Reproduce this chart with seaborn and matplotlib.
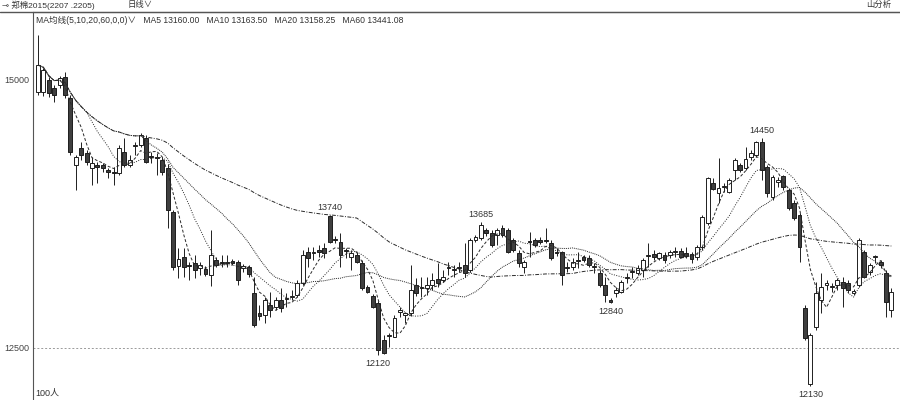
import numpy as np
import pandas as pd
import seaborn as sns
import matplotlib.pyplot as plt
from matplotlib.lines import Line2D

# 日线 OHLC
opens = [14890, 14890, 15000, 14925, 14955, 15030, 14830, 14205, 14365, 14320,
         14180, 14205, 14205, 14160, 14140, 14135, 14330, 14205, 14385, 14395,
         14460, 14290, 14280, 14255, 14180, 13770, 13265, 13350, 13275, 13290,
         13245, 13235, 13180, 13320, 13300, 13290, 13310, 13300, 13245, 13255,
         13010, 12825, 12805, 12900, 12880, 12945, 12955, 12975, 12995, 13105,
         13395, 13385, 13415, 13430, 13730, 13515, 13490, 13415, 13350, 13365,
         13290, 13070, 12985, 12920, 12575, 12610, 12600, 12835, 12805, 12825,
         13085, 13070, 13060, 13085, 13140, 13135, 13245, 13225, 13245, 13275,
         13225, 13505, 13525, 13600, 13570, 13555, 13620, 13600, 13505, 13385,
         13255, 13495, 13505, 13505, 13505, 13480, 13395, 13395, 13255, 13255,
         13320, 13350, 13340, 13255, 13200, 13085, 12945, 13010, 13020, 13150,
         13210, 13200, 13225, 13360, 13375, 13340, 13365, 13365, 13395, 13405,
         13385, 13375, 13350, 13440, 13665, 14040, 13945, 14000, 13955, 14160,
         14205, 14180, 14280, 14300, 14420, 14190, 13910, 14050, 14105, 13975,
         13850, 13740, 12870, 12165, 12695, 12945, 13085, 13070, 13085, 13115,
         13105, 13010, 13085, 13395, 13210, 13350, 13300, 13200, 12855]
highs = [15420, 15110, 15030, 14955, 15035, 15075, 14860, 14300, 14420, 14345,
         14280, 14235, 14225, 14180, 14190, 14395, 14460, 14300, 14420, 14505,
         14485, 14330, 14320, 14280, 14215, 13785, 13430, 13430, 13300, 13365,
         13300, 13265, 13600, 13350, 13365, 13365, 13330, 13320, 13285, 13275,
         13160, 12900, 12975, 13020, 12975, 13060, 13010, 13040, 13135, 13415,
         13440, 13440, 13460, 13480, 13740, 13545, 13570, 13430, 13415, 13395,
         13320, 13085, 13005, 12940, 12620, 12640, 12805, 12880, 12835, 13275,
         13150, 13160, 13160, 13200, 13290, 13225, 13300, 13275, 13300, 13480,
         13525, 13555, 13675, 13620, 13600, 13620, 13645, 13620, 13525, 13415,
         13320, 13580, 13525, 13535, 13620, 13505, 13430, 13405, 13300, 13340,
         13395, 13365, 13365, 13290, 13225, 13160, 12965, 13070, 13135, 13200,
         13255, 13275, 13340, 13480, 13415, 13395, 13395, 13415, 13440, 13430,
         13440, 13395, 13460, 13740, 14095, 14085, 14270, 14040, 14085, 14270,
         14225, 14375, 14345, 14430, 14460, 14205, 14115, 14095, 14115, 13990,
         13880, 13760, 12900, 12640, 13115, 13200, 13135, 13105, 13150, 13160,
         13135, 13050, 13525, 13415, 13290, 13365, 13320, 13225, 13060]
lows = [14860, 14850, 14840, 14795, 14925, 14830, 14300, 13975, 14255, 14205,
        14020, 14040, 14140, 14085, 14020, 14115, 14190, 14190, 14300, 14375,
        14225, 14225, 14115, 14115, 13620, 13225, 13150, 13160, 13135, 13150,
        13180, 13170, 13080, 13255, 13255, 13255, 13275, 13085, 13210, 13160,
        12695, 12760, 12730, 12790, 12855, 12835, 12880, 12945, 12975, 13085,
        13255, 13320, 13350, 13340, 13480, 13480, 13255, 13340, 13225, 13290,
        13040, 13010, 12870, 12435, 12440, 12510, 12600, 12790, 12730, 12795,
        12985, 12975, 12995, 13040, 13070, 13115, 13180, 13160, 13210, 13160,
        13210, 13490, 13505, 13545, 13440, 13460, 13535, 13385, 13395, 13255,
        13200, 13350, 13440, 13470, 13480, 13320, 13360, 13085, 13210, 13225,
        13245, 13300, 13255, 13200, 13070, 12930, 12920, 12975, 13010, 13105,
        13150, 13180, 13160, 13255, 13320, 13320, 13290, 13340, 13350, 13340,
        13340, 13290, 13320, 13415, 13645, 13975, 13850, 13955, 13945, 14065,
        14140, 14160, 14255, 14280, 14065, 13910, 13880, 14000, 13975, 13785,
        13695, 13300, 12575, 12145, 12665, 12825, 13040, 13020, 13040, 12880,
        13010, 12995, 13070, 13150, 13180, 13290, 13245, 12785, 12785]
closes = [15140, 15095, 14880, 14860, 15020, 14860, 14330, 14280, 14300, 14235,
          14225, 14190, 14180, 14140, 14135, 14365, 14205, 14255, 14395, 14485,
          14235, 14280, 14270, 14140, 13785, 13255, 13330, 13255, 13265, 13225,
          13275, 13190, 13365, 13275, 13290, 13300, 13290, 13135, 13265, 13190,
          12715, 12795, 12945, 12855, 12945, 12870, 12965, 12985, 13105, 13365,
          13340, 13395, 13395, 13385, 13490, 13505, 13365, 13405, 13385, 13300,
          13060, 13020, 12880, 12480, 12450, 12620, 12780, 12855, 12825, 13040,
          13010, 13060, 13085, 13135, 13105, 13160, 13255, 13235, 13255, 13200,
          13505, 13535, 13645, 13570, 13460, 13600, 13555, 13395, 13415, 13290,
          13300, 13490, 13460, 13490, 13495, 13340, 13385, 13180, 13245, 13300,
          13310, 13320, 13275, 13265, 13085, 12995, 12930, 13040, 13115, 13160,
          13220, 13245, 13320, 13365, 13350, 13385, 13320, 13395, 13405, 13350,
          13360, 13330, 13440, 13720, 14085, 13985, 13990, 14010, 14065, 14255,
          14160, 14265, 14320, 14420, 14160, 13945, 14095, 14065, 14000, 13805,
          13710, 13440, 12590, 12620, 13010, 13070, 13105, 13080, 13135, 13060,
          13040, 13030, 13505, 13160, 13275, 13360, 13275, 12930, 13020]

# 高低点标注
ann_idx = [54, 82, 134, 63, 106, 143]
ann_text = ['13740', '13685', '14450', '12120', '12840', '12130']
ann_side = ['high', 'high', 'high', 'low', 'low', 'low']

y_ticks = [15000, 12500]
ma_windows = [5, 10, 20, 60]

df = pd.DataFrame({'open': opens, 'high': highs, 'low': lows, 'close': closes})
df['idx'] = np.arange(len(df))
for n in ma_windows:
    df['ma%d' % n] = df['close'].rolling(n, min_periods=1).mean()

sns.set_style('white')
plt.rcParams['font.family'] = ['Liberation Sans', 'Noto Sans CJK SC', 'DejaVu Sans']

fig = plt.figure(figsize=(9, 4), dpi=100)
ax = fig.add_axes([33 / 900, 0, 867 / 900, 388 / 400])

up = df[df['close'] >= df['open']]
down = df[df['close'] < df['open']]
ax.vlines(df['idx'], df['low'], df['high'], color='#1e1e1e', lw=0.7, zorder=2)
ax.bar(up['idx'], up['close'] - up['open'], bottom=up['open'], width=0.72,
       facecolor='white', edgecolor='#1e1e1e', linewidth=0.7, zorder=3)
ax.bar(down['idx'], down['open'] - down['close'], bottom=down['close'], width=0.72,
       facecolor='#3f3f3f', edgecolor='#1e1e1e', linewidth=0.7, zorder=3)

# 均线
styles = {'ma5': (0, (3, 2)), 'ma10': (0, (1, 1.5)), 'ma20': (0, (1, 1)), 'ma60': (0, (4, 1.5, 1, 1.5))}
for col, ls in styles.items():
    sns.lineplot(data=df, x='idx', y=col, ax=ax, color='#2a2a2a', lw=0.7, linestyle=ls, zorder=4)

ax.axhline(12500, color='#9a9a9a', lw=0.7, ls=(0, (2, 2)), zorder=1)

for i, t, s in zip(ann_idx, ann_text, ann_side):
    if s == 'high':
        ax.annotate(t, (i, df['high'][i]), xytext=(0, 2), textcoords='offset points',
                    ha='center', va='bottom', fontsize=6.5, color='#333')
    else:
        ax.annotate(t, (i, df['low'][i]), xytext=(0, -3), textcoords='offset points',
                    ha='center', va='top', fontsize=6.5, color='#333')

ax.set_xlim(-0.93, 159.6)
ax.set_ylim(12014, 15634)
ax.set_xticks([])
ax.set_yticks(y_ticks)
ax.set_yticklabels([str(v) for v in y_ticks], fontsize=6.5, color='#444')
ax.tick_params(axis='y', length=0, pad=3)
ax.set_xlabel('')
ax.set_ylabel('')
for side in ['right', 'bottom']:
    ax.spines[side].set_visible(False)
ax.spines['left'].set_color('#555')
ax.spines['top'].set_color('#555')

ax.text(3 / 867, 1 - 8 / 388,
        'MA均线(5,10,20,60,0,0)∨   MA5 13160.00   MA10 13163.50   MA20 13158.25   MA60 13441.08',
        transform=ax.transAxes, fontsize=6.2, color='#333', va='center')

fig.add_artist(Line2D([0, 1], [388 / 400, 388 / 400], color='#555', lw=1))
fig.text(2 / 900, 1 - 5 / 400, '⊸ 郑棉2015(2207 .2205)', fontsize=6, color='#333', va='center')
fig.text(128 / 900, 1 - 5 / 400, '日线∨', fontsize=6, color='#333', va='center')
fig.text(866 / 900, 1 - 5 / 400, '山分析', fontsize=6, color='#333', va='center')
fig.text(35 / 900, 1 - 393 / 400, '100人', fontsize=6.5, color='#333', va='center')

fig.savefig('out.png', dpi=100)
